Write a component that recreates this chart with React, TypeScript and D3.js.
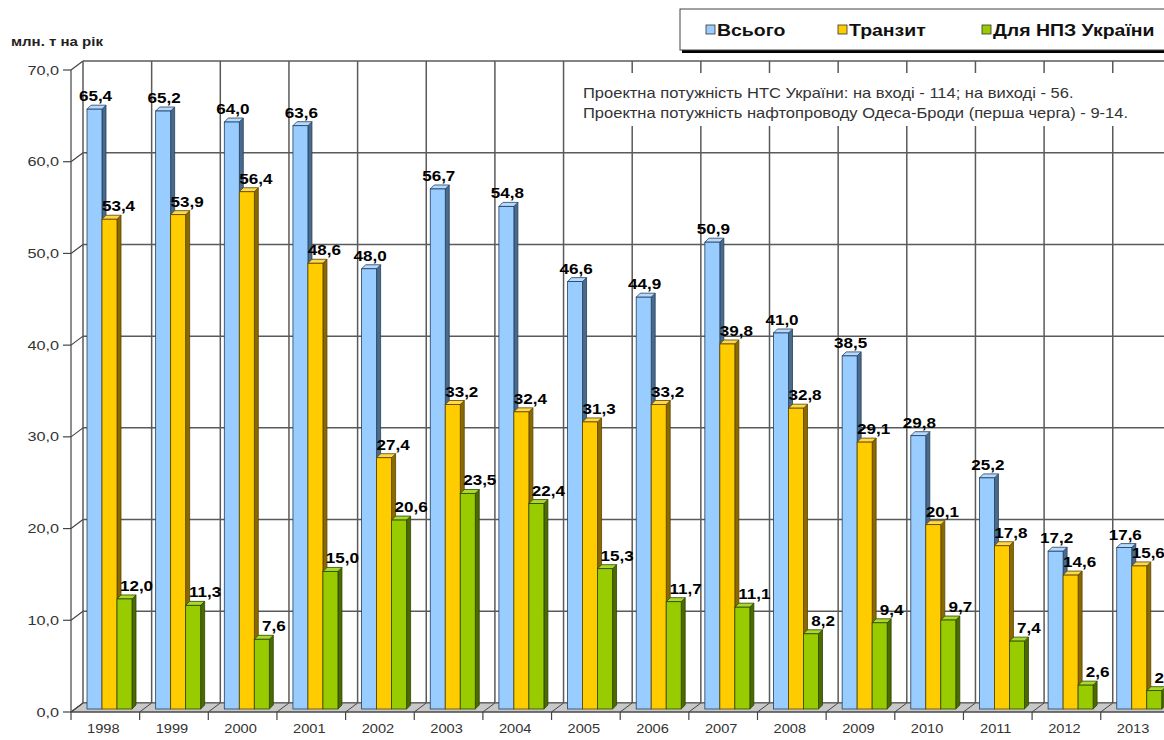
import { scaleBand, scaleLinear } from "d3";

const YEARS = ["1998","1999","2000","2001","2002","2003","2004","2005","2006","2007","2008","2009","2010","2011","2012","2013"];
const TOTAL = [65.4,65.2,64.0,63.6,48.0,56.7,54.8,46.6,44.9,50.9,41.0,38.5,29.8,25.2,17.2,17.6];
const TRANSIT = [53.4,53.9,56.4,48.6,27.4,33.2,32.4,31.3,33.2,39.8,32.8,29.1,20.1,17.8,14.6,15.6];
const DOMESTIC = [12.0,11.3,7.6,15.0,20.6,23.5,22.4,15.3,11.7,11.1,8.2,9.4,9.7,7.4,2.6,2.0];
const SERIES_NAMES = ["Всього", "Транзит", "Для НПЗ України"];
const Y_TICKS = [0,10,20,30,40,50,60,70];
const NOTE_LINES = [
  "Проектна потужність НТС України: на вході - 114; на виході - 56.",
  "Проектна потужність нафтопроводу Одеса-Броди (перша черга) - 9-14.",
];
const Y_TITLE = "млн. т на рік";

const SERIES = [
  { name: SERIES_NAMES[0], values: TOTAL, front: "#99ccff", side: "#4a6a8c", top: "#b5d9ff", edge: "#23405e", dx: 1 },
  { name: SERIES_NAMES[1], values: TRANSIT, front: "#ffcc00", side: "#8a6a00", top: "#ffd84a", edge: "#5a4300", dx: 9 },
  { name: SERIES_NAMES[2], values: DOMESTIC, front: "#99cc00", side: "#4b6a00", top: "#a9d92a", edge: "#2f4500", dx: 12 },
];

const W = 1164, H = 740;
const FONT = "'Liberation Sans', Arial, sans-serif";
const X0 = 71, BAND = 68.65;
const WALL_DX = 12, WALL_DY = 9;   // back wall offset
const BAR_DX = 4, BAR_DY = 4;      // bar depth
const fmt = (v: number) => v.toFixed(1).replace(".", ",");

// the source picture is stretched horizontally, so text gets a wider x scale
function SText({ x, y, sx, children, ...rest }: any) {
  return (
    <text transform={`translate(${x},${y}) scale(${sx},1)`} {...rest}>{children}</text>
  );
}

export default function App() {
  const x = scaleBand<string>().domain(YEARS).range([X0, X0 + BAND * YEARS.length]);
  const inner = scaleBand<number>().domain([0, 1, 2]).range([16, 61]);
  const y = scaleLinear().domain([0, 70]).range([712, 70]);
  const yb = (v: number) => y(v) - 3; // bars stand slightly behind the front edge
  const floorBack = y(0) - WALL_DY;
  const right = W + 20;

  return (
    <svg width={W} height={H} style={{ position: "absolute", left: 0, top: 0, background: "#fff" }} fontFamily={FONT}>
      {/* back wall grid */}
      {Y_TICKS.map(t => (
        <line key={"h" + t} x1={X0 + WALL_DX} x2={right} y1={y(t) - WALL_DY} y2={y(t) - WALL_DY} stroke="#5a5a5a" strokeWidth={1.5} />
      ))}
      {YEARS.map(yr => (
        <line key={"v" + yr} x1={(x(yr) ?? 0) + WALL_DX} x2={(x(yr) ?? 0) + WALL_DX} y1={y(70) - WALL_DY} y2={floorBack} stroke="#5a5a5a" strokeWidth={1.5} />
      ))}
      {/* floor */}
      <polygon points={`${X0},${y(0)} ${X0 + WALL_DX},${floorBack} ${right},${floorBack} ${right},${y(0)}`} fill="#c8c8c8" stroke="#555" strokeWidth={1} />
      {YEARS.map(yr => (
        <line key={"f" + yr} x1={x(yr) ?? 0} y1={y(0)} x2={(x(yr) ?? 0) + WALL_DX} y2={floorBack} stroke="#444" strokeWidth={1} />
      ))}
      {/* left wall */}
      <line x1={X0} x2={X0} y1={y(70)} y2={y(0)} stroke="#444" strokeWidth={1.2} />
      {Y_TICKS.map(t => (
        <g key={"l" + t}>
          <line x1={X0 - 8} x2={X0} y1={y(t)} y2={y(t)} stroke="#444" strokeWidth={1.2} />
          <line x1={X0} x2={X0 + WALL_DX} y1={y(t)} y2={y(t) - WALL_DY} stroke="#444" strokeWidth={1.2} />
          <SText x={X0 - 12} y={y(t)} sx={1.25} dy="0.35em" textAnchor="end" fontSize={13} fill="#333">{fmt(t)}</SText>
        </g>
      ))}
      {/* front x axis */}
      <line x1={X0} x2={right} y1={y(0)} y2={y(0)} stroke="#444" strokeWidth={1.2} />
      {YEARS.map(yr => (
        <g key={"x" + yr}>
          <line x1={x(yr) ?? 0} x2={x(yr) ?? 0} y1={y(0)} y2={y(0) + 8} stroke="#444" strokeWidth={1.2} />
          <SText x={(x(yr) ?? 0) + x.bandwidth() / 2 - 2} y={733} sx={1.17} textAnchor="middle" fontSize={12.5} fill="#333">{yr}</SText>
        </g>
      ))}
      {/* bars */}
      {YEARS.map((yr, i) => (
        <g key={"b" + yr}>
          {SERIES.map((s, si) => {
            const v = s.values[i];
            const bx = (x(yr) ?? 0) + (inner(si) ?? 0);
            const bw = inner.bandwidth();
            const top = yb(v), base = yb(0);
            return (
              <g key={s.name}>
                <polygon points={`${bx + bw},${top} ${bx + bw + BAR_DX},${top - BAR_DY} ${bx + bw + BAR_DX},${base - BAR_DY} ${bx + bw},${base}`} fill={s.side} stroke={s.edge} strokeWidth={0.8} />
                <polygon points={`${bx},${top} ${bx + BAR_DX},${top - BAR_DY} ${bx + bw + BAR_DX},${top - BAR_DY} ${bx + bw},${top}`} fill={s.top} stroke={s.edge} strokeWidth={0.8} />
                <rect x={bx} y={top} width={bw} height={base - top} fill={s.front} stroke={s.edge} strokeWidth={0.8} />
              </g>
            );
          })}
        </g>
      ))}
      {/* value labels */}
      {YEARS.map((yr, i) => (
        <g key={"t" + yr}>
          {SERIES.map((s, si) => {
            const v = s.values[i];
            const cx = (x(yr) ?? 0) + (inner(si) ?? 0) + inner.bandwidth() / 2 + s.dx;
            return (
              <SText key={s.name} x={cx} y={yb(v) - 8} sx={1.22} textAnchor="middle" fontSize={14} fontWeight="bold" fill="#000">{fmt(v)}</SText>
            );
          })}
        </g>
      ))}
      {/* note */}
      <rect x={576} y={73} width={W - 576} height={53} fill="#fff" />
      {NOTE_LINES.map((l, i) => (
        <SText key={i} x={583} y={98 + i * 20} sx={1.18} fontSize={14} fill="#333">{l}</SText>
      ))}
      {/* y title */}
      <SText x={11} y={46} sx={1.25} fontSize={12} fontWeight="bold" fill="#222">{Y_TITLE}</SText>
      {/* legend */}
      <rect x={682} y={12} width={520} height={41} fill="#000" />
      <rect x={680} y={9} width={520} height={41} fill="#fff" stroke="#444" strokeWidth={1} />
      {SERIES.map((s, si) => {
        const lx = [706, 838, 982][si];
        return (
          <g key={"lg" + si}>
            <rect x={lx} y={25} width={9} height={9} fill={s.front} stroke="#333" strokeWidth={0.8} />
            <SText x={lx + 11} y={36} sx={1.18} fontSize={16.5} fontWeight="bold" fill="#111">{s.name}</SText>
          </g>
        );
      })}
    </svg>
  );
}
